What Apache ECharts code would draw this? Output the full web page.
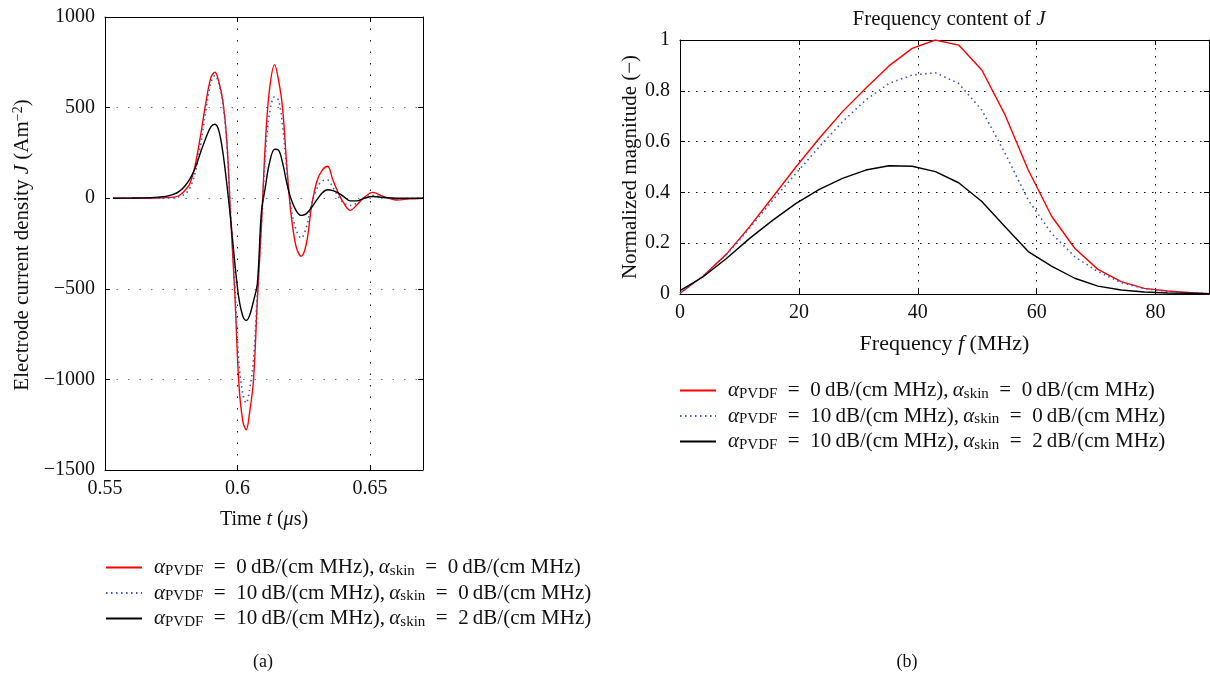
<!DOCTYPE html>
<html>
<head>
<meta charset="utf-8">
<script src="https://cdn.jsdelivr.net/npm/echarts@6/dist/echarts.min.js"></script>
<style>
  html, body { margin: 0; padding: 0; background: #fff; }
  #chart { width: 1210px; height: 677px; }
</style>
</head>
<body>
<div id="chart"></div>
<script>
// ---- (a) electrode current density versus time ----
const timeUs = [0.553, 0.560, 0.565, 0.570, 0.573, 0.576, 0.578, 0.580, 0.582, 0.584,
  0.586, 0.588, 0.590, 0.5915, 0.593, 0.5945, 0.596, 0.5975, 0.599, 0.6005,
  0.602, 0.6033, 0.6045, 0.606, 0.6075, 0.609, 0.6105, 0.612, 0.614, 0.6155,
  0.617, 0.6185, 0.620, 0.622, 0.624, 0.626, 0.628, 0.630, 0.632, 0.634,
  0.636, 0.638, 0.640, 0.6425, 0.645, 0.6475, 0.651, 0.655, 0.660, 0.665, 0.670];

// alpha_PVDF = 0, alpha_skin = 0
const jNoLoss = [0, 0, 0, 1, 3, 6, 15, 40, 80, 180,
  341, 522, 668, 695, 640, 535, 310, -130, -530, -1020,
  -1230, -1278, -1190, -1010, -560, -160, 300, 590, 737, 650,
  500, 200, -60, -260, -321, -250, -40, 95, 155, 176,
  100, 30, -25, -67, -38, 0, 32, 10, -10, -4, 0];

// alpha_PVDF = 10, alpha_skin = 0
const jPvdfLoss = [0, 0, 0, 0, 1, 3, 8, 20, 55, 140,
  290, 480, 640, 678, 630, 520, 300, -110, -480, -900,
  -1080, -1131, -1060, -900, -520, -150, 230, 460, 560, 540,
  400, 170, -30, -170, -220, -160, -30, 55, 95, 100,
  60, 10, -25, -40, -28, 0, 15, 6, -4, -2, 0];

// alpha_PVDF = 10, alpha_skin = 2
const jPvdfSkinLoss = [0, 1, 2, 6, 10, 22, 38, 65, 105, 165,
  250, 330, 395, 408, 370, 250, 75, -130, -360, -550,
  -650, -674, -650, -570, -470, -80, 60, 190, 270, 265,
  196, 90, 5, -65, -95, -85, -50, -8, 30, 47,
  42, 30, 10, -15, -15, -2, 9, 4, 0, 0, 0];

// ---- (b) normalized spectrum ----
const freqMHz = [0, 3.906, 7.813, 11.72, 15.63, 19.53, 23.44, 27.34, 31.25, 35.16,
  39.06, 42.97, 46.88, 50.78, 54.69, 58.59, 62.5, 66.41, 70.31, 74.22,
  78.13, 82.03, 85.94, 89];
const magNoLoss = [0.003, 0.071, 0.157, 0.265, 0.383, 0.501, 0.613, 0.718, 0.81, 0.898,
  0.967, 1.0, 0.98, 0.882, 0.705, 0.488, 0.307, 0.18, 0.097, 0.049,
  0.022, 0.012, 0.005, 0.001];
const magPvdfLoss = [0.003, 0.071, 0.155, 0.26, 0.37, 0.475, 0.58, 0.678, 0.764, 0.829,
  0.862, 0.871, 0.829, 0.724, 0.554, 0.37, 0.239, 0.147, 0.088, 0.045,
  0.021, 0.01, 0.005, 0.001];
const magPvdfSkinLoss = [0.013, 0.068, 0.14, 0.219, 0.291, 0.357, 0.412, 0.455, 0.488, 0.505,
  0.503, 0.482, 0.438, 0.364, 0.265, 0.167, 0.11, 0.062, 0.031, 0.016,
  0.008, 0.004, 0.003, 0.001];

// attenuation settings for the three cases: [alpha_PVDF, alpha_skin]
const cases = [['0', '0'], ['10', '0'], ['10', '2']];
const caseNames = cases.map(c => 'αPVDF = ' + c[0] + ' dB/(cm MHz), αskin = ' + c[1] + ' dB/(cm MHz)');
const tickTime = ['0.55', '0.6', '0.65'];

const FONT = "'Liberation Serif', 'DejaVu Serif', serif";
const INK = '#111';
const colors = ['#ff0000', '#3d55c8', '#000000'];
const styles = ['solid', [1.5, 3.5], 'solid'];

const pairs = (xs, ys) => xs.map((x, i) => [x, ys[i]]);

function legendText(name) {
  const c = cases[caseNames.indexOf(name)];
  return '{g|}{a|α}{s|PVDF}{t|\u2002=\u2002' + c[0] + '\u2009dB/(cm MHz),\u2009}{a|α}{s|skin}{t|\u2002=\u2002' + c[1] + '\u2009dB/(cm MHz)}';
}
const legendRich = {
  g: { width: 7 },
  a: { fontFamily: FONT, fontSize: 21, fontStyle: 'italic', color: INK, lineHeight: 22 },
  s: { fontFamily: FONT, fontSize: 15, color: INK, lineHeight: 14, verticalAlign: 'bottom' },
  t: { fontFamily: FONT, fontSize: 21, color: INK, lineHeight: 22 }
};

const tickLabel = { fontFamily: FONT, fontSize: 20, color: INK };
const italicRich = size => ({ i: { fontFamily: FONT, fontSize: size, fontStyle: 'italic', color: INK } });
function boxAxis(extra) {
  return Object.assign({
    axisLine: { show: true, onZero: false, lineStyle: { color: '#000', width: 1 } },
    axisTick: { show: true, inside: true, length: 5, lineStyle: { color: '#000' } },
    axisLabel: Object.assign({ margin: 9 }, tickLabel),
    splitLine: { show: false }
  }, extra);
}

const chart = echarts.init(document.getElementById('chart'), null, { renderer: 'canvas' });

const lineSeries = (name, data, xi, yi, k, smooth) => ({
  type: 'line', name, data, xAxisIndex: xi, yAxisIndex: yi,
  showSymbol: false, symbol: 'none', smooth, animation: false,
  lineStyle: { color: colors[k], width: k === 1 ? 1.6 : 1.4, type: styles[k] },
  itemStyle: { color: colors[k] }
});

const legendBase = {
  orient: 'vertical', itemWidth: 36, itemHeight: 12, itemGap: 4, padding: 0, data: caseNames,
  formatter: legendText, textStyle: { rich: legendRich }, selectedMode: false,
  itemStyle: { opacity: 0 }
};

chart.setOption({
  animation: false,
  grid: [
    { left: 105, top: 17, width: 318, height: 453 },
    { left: 680, top: 40, width: 529, height: 254 }
  ],
  title: {
    text: 'Frequency content of {i|J}',
    left: 944, top: 4, textAlign: 'center',
    textStyle: { fontFamily: FONT, fontSize: 21, fontWeight: 'normal', color: INK, rich: italicRich(21) }
  },
  xAxis: [
    boxAxis({ type: 'value', gridIndex: 0, position: 'bottom', min: 0.55, max: 0.67, interval: 0.05,
      axisLabel: Object.assign({ margin: 9, showMaxLabel: false,
        formatter: v => tickTime[Math.round((v - 0.55) / 0.05)] || '' }, tickLabel),
      splitLine: { show: true, lineStyle: { color: '#222', width: 1, type: [1.5, 10] } },
      name: 'Time {i|t} ({i|μ}s)', nameLocation: 'middle', nameGap: 40,
      nameTextStyle: { fontFamily: FONT, fontSize: 20, color: INK, rich: italicRich(20) } }),
    boxAxis({ type: 'value', gridIndex: 0, position: 'top', min: 0.55, max: 0.67, interval: 0.05,
      axisLabel: { show: false } }),
    boxAxis({ type: 'value', gridIndex: 1, position: 'bottom', min: 0, max: 89, interval: 20,
      axisLabel: Object.assign({ margin: 9, showMaxLabel: false }, tickLabel),
      splitLine: { show: true, lineStyle: { color: '#111', width: 1, type: [1.5, 6.5] } },
      name: 'Frequency {i|f} (MHz)', nameLocation: 'middle', nameGap: 39,
      nameTextStyle: { fontFamily: FONT, fontSize: 22, color: INK, rich: italicRich(22) } }),
    boxAxis({ type: 'value', gridIndex: 1, position: 'top', min: 0, max: 89, interval: 20,
      axisLabel: { show: false } })
  ],
  yAxis: [
    boxAxis({ type: 'value', gridIndex: 0, position: 'left', min: -1500, max: 1000, interval: 500,
      axisLabel: Object.assign({ margin: 10, formatter: v => v < 0 ? '\u2212' + (-v) : String(v) }, tickLabel),
      splitLine: { show: true, lineStyle: { color: '#777', width: 1, type: [1.5, 10] } } }),
    boxAxis({ type: 'value', gridIndex: 0, position: 'right', min: -1500, max: 1000, interval: 500,
      axisLabel: { show: false } }),
    boxAxis({ type: 'value', gridIndex: 1, position: 'left', min: 0, max: 1, interval: 0.2,
      axisLabel: Object.assign({ margin: 10 }, tickLabel),
      splitLine: { show: true, lineStyle: { color: '#111', width: 1, type: [1.5, 6.5] } },
      name: 'Normalized magnitude (\u2212)', nameLocation: 'middle', nameGap: 38,
      nameTextStyle: { fontFamily: FONT, fontSize: 21, color: INK } }),
    boxAxis({ type: 'value', gridIndex: 1, position: 'right', min: 0, max: 1, interval: 0.2,
      axisLabel: { show: false } })
  ],
  legend: [
    Object.assign({ left: 105, top: 557 }, legendBase),
    Object.assign({ left: 679, top: 380 }, legendBase)
  ],
  graphic: [
    { type: 'text', x: 22, y: 245, rotation: Math.PI / 2,
      style: { text: 'Electrode current density {i|J} (Am{sup|\u22122})', align: 'center', verticalAlign: 'middle',
        font: '21px ' + FONT, fill: INK,
        rich: { i: { fontFamily: FONT, fontSize: 21, fontStyle: 'italic', fill: INK },
                sup: { fontFamily: FONT, fontSize: 14, fill: INK, verticalAlign: 'top', lineHeight: 14 } } } },
    { type: 'text', x: 263, y: 662,
      style: { text: '(a)', align: 'center', verticalAlign: 'middle', font: '18px ' + FONT, fill: INK } },
    { type: 'text', x: 907, y: 662,
      style: { text: '(b)', align: 'center', verticalAlign: 'middle', font: '18px ' + FONT, fill: INK } }
  ],
  series: [
    lineSeries(caseNames[0], pairs(timeUs, jNoLoss), 0, 0, 0, 0.35),
    lineSeries(caseNames[1], pairs(timeUs, jPvdfLoss), 0, 0, 1, 0.35),
    lineSeries(caseNames[2], pairs(timeUs, jPvdfSkinLoss), 0, 0, 2, 0.35),
    lineSeries(caseNames[0], pairs(freqMHz, magNoLoss), 2, 2, 0, false),
    lineSeries(caseNames[1], pairs(freqMHz, magPvdfLoss), 2, 2, 1, false),
    lineSeries(caseNames[2], pairs(freqMHz, magPvdfSkinLoss), 2, 2, 2, false)
  ]
});
</script>
</body>
</html>
